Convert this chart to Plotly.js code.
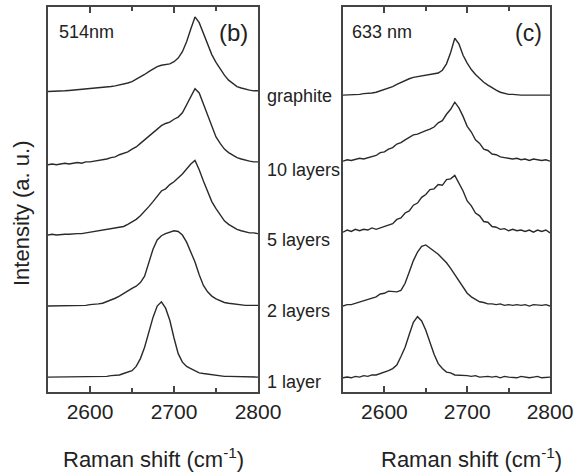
<!DOCTYPE html>
<html>
<head>
<meta charset="utf-8">
<script src="https://cdn.plot.ly/plotly-3.0.1.min.js"></script>
<style>html,body{margin:0;padding:0;background:#fff;}#chart{width:577px;height:476px;}</style>
</head>
<body>
<div id="chart"></div>
<script>
// Raman shift (cm^-1)
const wavenumber = [2550,2555,2560,2565,2570,2575,2580,2585,2590,2595,
  2600,2605,2610,2615,2620,2625,2630,2635,2640,2645,
  2650,2655,2660,2665,2670,2675,2680,2685,2690,2695,
  2700,2705,2710,2715,2720,2725,2730,2735,2740,2745,
  2750,2755,2760,2765,2770,2775,2780,2785,2790,2795,2800];

const majorTicks = [2600,2700,2800];
const minorTicks = [2650,2750];
const sampleLabels = ["1 layer","2 layers","5 layers","10 layers","graphite"];

// (b) 514 nm excitation, intensity above each baseline (a.u.)
const b_1layer = [0,0,0,0,0,0,0,0,0.01,0.01,0.01,
  0.01,0.01,0.01,0.01,0.02,0.02,0.03,0.05,0.07,0.09,
  0.15,0.26,0.42,0.62,0.84,1.00,1.06,0.97,0.80,0.55,
  0.33,0.21,0.15,0.12,0.09,0.06,0.05,0.04,0.03,0.02,
  0.02,0.01,0.01,0.01,0.01,0.01,0,0,0,0];
const b_2layers = [0,0,0,0,0,0,0.01,0.01,0.01,0.01,0.02,
  0.02,0.03,0.04,0.06,0.08,0.11,0.14,0.18,0.22,0.25,
  0.28,0.33,0.42,0.60,0.80,0.93,0.99,1.02,1.04,1.06,
  1.05,1.00,0.90,0.76,0.62,0.44,0.29,0.20,0.14,0.10,
  0.07,0.05,0.04,0.03,0.02,0.02,0.01,0.01,0.01,0.01];
const b_5layers = [0.00,0.01,0.00,0.01,0.01,0.01,0.02,0.02,0.02,0.03,0.03,
  0.04,0.05,0.06,0.07,0.08,0.09,0.10,0.12,0.15,0.18,
  0.22,0.27,0.33,0.40,0.47,0.54,0.62,0.65,0.71,0.75,
  0.80,0.86,0.93,1.00,1.05,0.92,0.76,0.60,0.47,0.37,
  0.28,0.20,0.15,0.11,0.08,0.06,0.04,0.03,0.03,0.02];
const b_10layers = [0.00,0.01,0.00,0.01,0.02,0.01,0.02,0.03,0.02,0.04,0.04,
  0.05,0.06,0.06,0.08,0.10,0.11,0.14,0.16,0.18,0.22,
  0.25,0.30,0.35,0.40,0.46,0.50,0.55,0.58,0.60,0.64,
  0.67,0.73,0.84,0.95,1.07,1.01,0.85,0.68,0.52,0.39,
  0.30,0.22,0.17,0.13,0.10,0.08,0.06,0.05,0.04,0.04];
const b_graphite = [0.00,0.00,0.005,0.01,0.01,0.015,0.02,0.02,0.025,0.03,0.035,
  0.04,0.045,0.05,0.06,0.07,0.08,0.09,0.10,0.12,0.14,
  0.17,0.20,0.24,0.28,0.32,0.35,0.37,0.38,0.39,0.42,
  0.47,0.56,0.70,0.88,1.05,0.97,0.82,0.66,0.52,0.41,
  0.31,0.23,0.16,0.11,0.07,0.05,0.03,0.02,0.01,0.01];

// (c) 633 nm excitation
const c_1layer = [0,0.01,0.00,0.02,0.01,0.03,0.02,0.04,0.04,0.06,0.07,
  0.10,0.13,0.18,0.30,0.43,0.61,0.78,0.86,0.80,0.67,
  0.49,0.33,0.20,0.13,0.08,0.07,0.04,0.04,0.03,0.03,
  0.02,0.03,0.01,0.02,0.02,0.01,0.02,0.00,0.02,0.01,
  0.01,0.00,0.02,0.01,0.00,0.01,0.02,0.00,0.01,0.01];
const c_2layers = [0,0.02,0.02,0.04,0.05,0.08,0.09,0.12,0.13,0.17,0.18,
  0.21,0.20,0.20,0.22,0.32,0.48,0.64,0.76,0.84,0.86,
  0.82,0.77,0.73,0.67,0.61,0.53,0.44,0.35,0.26,0.18,
  0.13,0.09,0.06,0.05,0.03,0.03,0.02,0.03,0.01,0.02,
  0.01,0.02,0.01,0.02,0.00,0.02,0.01,0.01,0.02,0.00];
const c_5layers = [0,0.03,0.01,0.04,0.02,0.04,0.03,0.06,0.04,0.06,0.07,
  0.10,0.12,0.18,0.20,0.27,0.30,0.38,0.41,0.49,0.53,
  0.60,0.61,0.67,0.66,0.74,0.75,0.80,0.70,0.58,0.44,
  0.37,0.27,0.23,0.15,0.14,0.08,0.07,0.04,0.05,0.02,
  0.04,0.02,0.03,0.01,0.03,0.00,0.03,0.01,0.03,-0.01];
const c_10layers = [0,0.02,0.01,0.02,0.04,0.03,0.05,0.07,0.08,0.12,0.13,
  0.17,0.19,0.24,0.26,0.30,0.33,0.37,0.38,0.41,0.43,
  0.45,0.48,0.54,0.57,0.66,0.73,0.83,0.75,0.63,0.49,
  0.41,0.30,0.25,0.17,0.15,0.10,0.09,0.06,0.05,0.04,
  0.03,0.04,0.02,0.03,0.01,0.03,0.02,0.01,0.02,0.00];
const c_graphite = [0,0,0.01,0.01,0.01,0.02,0.02,0.03,0.04,0.06,0.07,
  0.09,0.12,0.15,0.18,0.21,0.23,0.25,0.26,0.26,0.27,
  0.28,0.29,0.31,0.35,0.44,0.60,0.80,0.72,0.56,0.45,
  0.36,0.29,0.23,0.18,0.14,0.10,0.07,0.04,0.02,0.01,
  0.01,0,0,0,0,0,0,0,0,0];

// vertical stacking offsets (a.u.), order: 1 layer .. graphite
const offsets514 = [0.21,1.21,2.21,3.20,4.23];
const offsets633 = [0.20,1.21,2.25,3.25,4.18];

const series514 = [b_1layer,b_2layers,b_5layers,b_10layers,b_graphite];
const series633 = [c_1layer,c_2layers,c_5layers,c_10layers,c_graphite];

const lineStyle = {color:'#2a2a2a', width:1.4};
const traces = [];
series514.forEach((s,i)=>{
  traces.push({x:wavenumber, y:s.map(v=>v+offsets514[i]), type:'scatter', mode:'lines',
    line:lineStyle, xaxis:'x', yaxis:'y', showlegend:false, name:sampleLabels[i]});
});
series633.forEach((s,i)=>{
  traces.push({x:wavenumber, y:s.map(v=>v+offsets633[i]), type:'scatter', mode:'lines',
    line:lineStyle, xaxis:'x2', yaxis:'y2', showlegend:false, name:sampleLabels[i]});
});

const FONT = 'Liberation Sans, Arial, sans-serif';
const TXT = '#222';
const yDom = [1-392/476, 1-7/476];
const xAxisBase = {
  type:'linear', range:[2550,2800], showline:true, linecolor:'#444', linewidth:1.5, mirror:'allticks',
  ticks:'inside', ticklen:6, tickwidth:1.5, tickcolor:'#444',
  tickmode:'array', tickvals:majorTicks, ticktext:majorTicks.map(String),
  minor:{tickmode:'array', tickvals:minorTicks, ticks:'inside', ticklen:4, tickwidth:1.5, tickcolor:'#444', showgrid:false},
  showgrid:false, zeroline:false, tickfont:{family:FONT, size:21, color:TXT}
};
const yAxisBase = {
  type:'linear', range:[0,5.42], domain:yDom, showline:true, linecolor:'#444', linewidth:1.5, mirror:true,
  ticks:'', showticklabels:false, showgrid:false, zeroline:false
};

const annotations = [];
sampleLabels.forEach((lab,i)=>{
  annotations.push({text:lab, xref:'paper', yref:'y', x:265/577, y:offsets514[i]-0.07,
    xanchor:'left', yanchor:'middle', showarrow:false, font:{family:FONT,size:18,color:TXT}});
});
annotations.push(
  {text:'514nm', xref:'paper', yref:'paper', x:57/577, y:1-32/476, xanchor:'left', yanchor:'middle', showarrow:false, font:{family:FONT,size:18,color:TXT}},
  {text:'(b)', xref:'paper', yref:'paper', x:233/577, y:1-33/476, xanchor:'center', yanchor:'middle', showarrow:false, font:{family:FONT,size:24,color:TXT}},
  {text:'633 nm', xref:'paper', yref:'paper', x:350/577, y:1-32/476, xanchor:'left', yanchor:'middle', showarrow:false, font:{family:FONT,size:18,color:TXT}},
  {text:'(c)', xref:'paper', yref:'paper', x:528/577, y:1-33/476, xanchor:'center', yanchor:'middle', showarrow:false, font:{family:FONT,size:23,color:TXT}},
  {text:'Raman shift (cm<sup>-1</sup>)', xref:'paper', yref:'paper', x:153/577, y:1-458/476, xanchor:'center', yanchor:'middle', showarrow:false, font:{family:FONT,size:22,color:TXT}},
  {text:'Raman shift (cm<sup>-1</sup>)', xref:'paper', yref:'paper', x:471/577, y:1-458/476, xanchor:'center', yanchor:'middle', showarrow:false, font:{family:FONT,size:22,color:TXT}},
  {text:'Intensity (a. u.)', xref:'paper', yref:'paper', x:22/577, y:1-213/476, xanchor:'center', yanchor:'middle', textangle:-90, showarrow:false, font:{family:FONT,size:22,color:TXT}}
);

const layout = {
  width:577, height:476, margin:{l:0,r:0,t:0,b:0},
  paper_bgcolor:'#fff', plot_bgcolor:'#fff', showlegend:false,
  xaxis:Object.assign({}, xAxisBase, {domain:[48/577, 258/577], anchor:'y'}),
  xaxis2:Object.assign({}, xAxisBase, {domain:[343/577, 550/577], anchor:'y2'}),
  yaxis:Object.assign({}, yAxisBase, {anchor:'x'}),
  yaxis2:Object.assign({}, yAxisBase, {anchor:'x2'}),
  annotations:annotations
};

Plotly.newPlot('chart', traces, layout, {displayModeBar:false});
</script>
</body>
</html>
